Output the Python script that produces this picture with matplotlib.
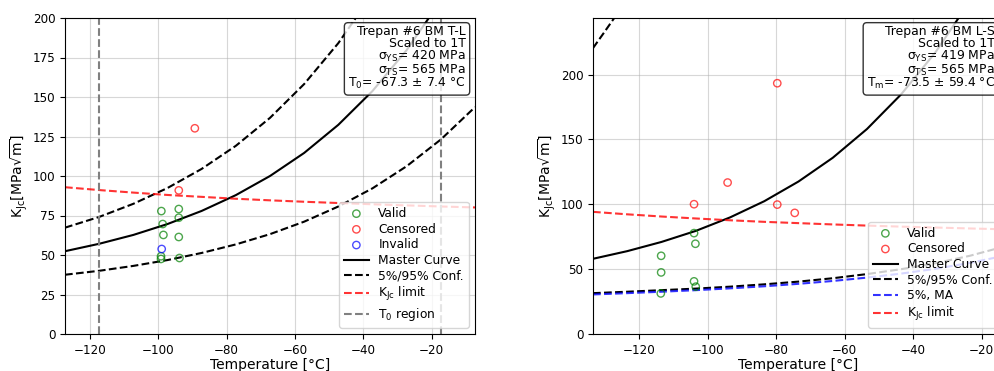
import matplotlib
matplotlib.use("Agg")
import matplotlib.pyplot as plt

# ---------------- Left panel data (T-L) ----------------
L_T0 = -67.3
L_T0_err = 7.4
L_xlim = (-127.3, -7.3)
L_t0_region = [-117.3, -17.3]
L_curve_T = [-127.3, -117.3, -107.3, -97.3, -87.3, -77.3, -67.3,
             -57.3, -47.3, -37.3, -27.3, -17.3, -7.3]
L_master = [52.4, 57.1, 62.7, 69.6, 77.9, 87.9, 100.0,
            114.6, 132.4, 153.8, 179.7, 211.0, 248.9]
L_conf05 = [37.5, 40.0, 43.1, 46.8, 51.3, 56.7, 63.2,
            71.1, 80.7, 92.2, 106.2, 123.1, 143.6]
L_conf95 = [67.3, 74.1, 82.4, 92.4, 104.5, 119.1, 136.8,
            158.2, 184.1, 215.3, 253.1, 298.0, 352.0]
L_klimit = [92.9, 91.1, 89.5, 88.0, 86.8, 85.6, 84.6,
            83.7, 82.9, 82.1, 81.4, 80.7, 80.1]
L_valid_T = [-99.1, -98.7, -98.5, -99.2, -99.2, -94.0, -94.0, -94.0, -93.8]
L_valid_K = [77.8, 69.6, 62.7, 49.2, 47.5, 79.1, 73.6, 61.4, 48.1]
L_cens_T = [-89.3, -94.0]
L_cens_K = [130.2, 90.9]
L_inv_T = [-99.0]
L_inv_K = [53.8]

# ---------------- Right panel data (L-S) ----------------
R_Tm = -73.5
R_Tm_err = 59.4
R_xlim = (-133.5, -13.5)
R_ylim_top = 243.7
R_curve_T = [-133.5, -123.5, -113.5, -103.5, -93.5, -83.5, -73.5,
             -63.5, -53.5, -43.5, -33.5, -23.5, -13.5]
R_master = [58.0, 63.9, 71.0, 79.5, 89.9, 102.4, 117.6,
            135.9, 158.1, 184.9, 217.3, 256.5, 303.9]
R_conf05 = [31.5, 32.6, 33.8, 35.0, 36.5, 38.3, 40.4,
            43.0, 46.2, 50.0, 54.6, 60.3, 67.4]
R_ma05 = [30.5, 31.5, 32.6, 33.8, 35.2, 36.8, 38.7,
          40.9, 43.5, 46.6, 50.3, 54.8, 60.3]
R_klimit = [94.2, 92.3, 90.6, 89.1, 87.7, 86.5, 85.5,
            84.5, 83.6, 82.8, 82.1, 81.4, 80.75]
R_conf95_T = [-133.5, -130.4, -127.3, -124.0]
R_conf95 = [220.5, 232.0, 243.7, 257.0]
R_valid_T = [-113.6, -113.6, -113.7, -104.0, -103.6, -104.0, -103.5]
R_valid_K = [60.3, 47.5, 31.3, 77.8, 69.6, 40.6, 36.5]
R_cens_T = [-104.0, -94.2, -79.7, -79.7, -74.6]
R_cens_K = [100.1, 116.8, 193.4, 99.8, 93.4]

W, H, DPI = 995, 371, 100
fig = plt.figure(figsize=(W / DPI, H / DPI), dpi=DPI)

ylab = r'K$_{\mathrm{Jc}}$[MPa$\sqrt{\mathrm{m}}$]'
klim_lab = r'K$_{\mathrm{Jc}}$ limit'
msz = 28
tick_fs = 8.6
leg_fs = 8.8
box_fs = 8.9
bbox = dict(boxstyle='round,pad=0.3', facecolor='white', edgecolor='black', alpha=0.8)


def style(ax):
    ax.grid(True, alpha=0.5)
    ax.tick_params(labelsize=tick_fs)
    ax.set_xlabel('Temperature [°C]', fontsize=10, labelpad=1)
    ax.set_ylabel(ylab, fontsize=10, labelpad=2)


# Left axes
axL = fig.add_axes([65 / W, 37 / H, 410 / W, 316 / H])
axL.scatter(L_valid_T, L_valid_K, s=msz, facecolors='none', edgecolors='green', alpha=0.7, label='Valid', zorder=3)
axL.scatter(L_cens_T, L_cens_K, s=msz, facecolors='none', edgecolors='red', alpha=0.7, label='Censored', zorder=3)
axL.scatter(L_inv_T, L_inv_K, s=msz, facecolors='none', edgecolors='blue', alpha=0.7, label='Invalid', zorder=3)
axL.plot(L_curve_T, L_master, color='black', lw=1.5, label='Master Curve')
axL.plot(L_curve_T, L_conf05, color='black', lw=1.5, ls='--', label='5%/95% Conf.')
axL.plot(L_curve_T, L_conf95, color='black', lw=1.5, ls='--')
axL.plot(L_curve_T, L_klimit, color='red', lw=1.5, ls='--', alpha=0.8, label=klim_lab)
for i, t in enumerate(L_t0_region):
    axL.axvline(t, color='gray', lw=1.5, ls='--', label=r'T$_0$ region' if i == 0 else None)
axL.set_xlim(*L_xlim)
axL.set_ylim(0, 200)
axL.set_yticks([0, 25, 50, 75, 100, 125, 150, 175, 200])
axL.set_xticks([-120, -100, -80, -60, -40, -20])
style(axL)
axL.legend(loc='lower right', fontsize=leg_fs, labelspacing=0.22)
axL.text(0.978, 0.977,
         'Trepan #6 BM T-L\nScaled to 1T\n'
         'σ$_{\\mathrm{YS}}$= 420 MPa\n'
         'σ$_{\\mathrm{TS}}$= 565 MPa\n'
         'T$_0$= ' + f'{L_T0} ± {L_T0_err} °C',
         transform=axL.transAxes, ha='right', va='top', multialignment='right',
         fontsize=box_fs, linespacing=0.88, bbox=bbox)

# Right axes
axR = fig.add_axes([593 / W, 37 / H, 411 / W, 316 / H])
axR.scatter(R_valid_T, R_valid_K, s=msz, facecolors='none', edgecolors='green', alpha=0.7, label='Valid', zorder=3)
axR.scatter(R_cens_T, R_cens_K, s=msz, facecolors='none', edgecolors='red', alpha=0.7, label='Censored', zorder=3)
axR.plot(R_curve_T, R_master, color='black', lw=1.5, label='Master Curve')
axR.plot(R_curve_T, R_conf05, color='black', lw=1.5, ls='--', label='5%/95% Conf.')
axR.plot(R_conf95_T, R_conf95, color='black', lw=1.5, ls='--')
axR.plot(R_curve_T, R_ma05, color='blue', lw=1.5, ls='--', alpha=0.8, label='5%, MA')
axR.plot(R_curve_T, R_klimit, color='red', lw=1.5, ls='--', alpha=0.8, label=klim_lab)
axR.set_xlim(*R_xlim)
axR.set_ylim(0, R_ylim_top)
axR.set_yticks([0, 50, 100, 150, 200])
axR.set_xticks([-120, -100, -80, -60, -40, -20])
style(axR)
axR.legend(loc='lower right', fontsize=leg_fs, labelspacing=0.22)
axR.text(0.978, 0.977,
         'Trepan #6 BM L-S\nScaled to 1T\n'
         'σ$_{\\mathrm{YS}}$= 419 MPa\n'
         'σ$_{\\mathrm{TS}}$= 565 MPa\n'
         'T$_{\\mathrm{m}}$= ' + f'{R_Tm} ± {R_Tm_err} °C',
         transform=axR.transAxes, ha='right', va='top', multialignment='right',
         fontsize=box_fs, linespacing=0.88, bbox=bbox)

fig.savefig('out.png', dpi=DPI)
